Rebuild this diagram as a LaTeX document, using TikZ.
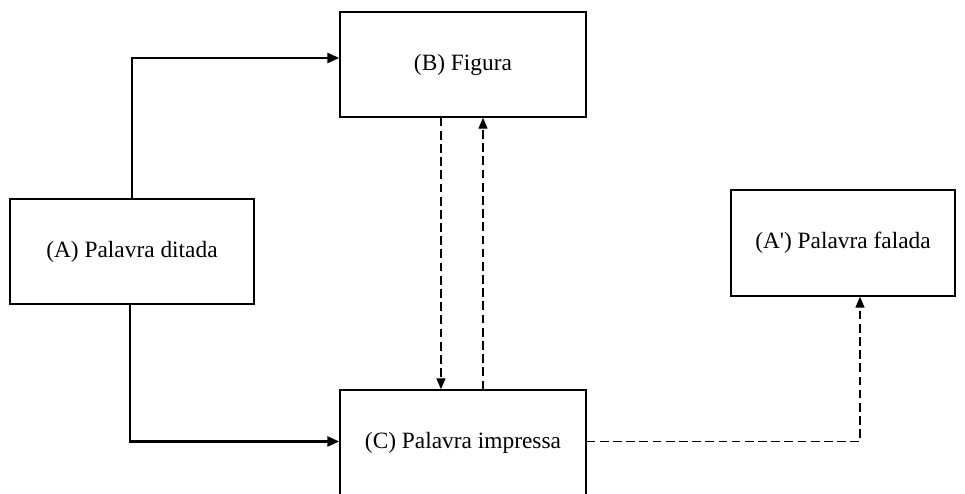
\documentclass[tikz,border=0pt]{standalone}
\usepackage{fontspec}
\setmainfont{Liberation Serif}
\usepackage{tikz}
\usetikzlibrary{arrows.meta,positioning,calc}

\tikzset{
    box/.style={draw, line width=0.8pt, minimum width=4.92cm, minimum height=2.1cm,
        font=\fontsize{13.3}{16}\selectfont},
    solidarrow/.style={line width=1.5pt, -{Triangle[length=2.4mm,width=2mm]}},
    dasharrow/.style={line width=0.7pt, dash pattern=on 5pt off 2.5pt,
        -{Triangle[length=2.2mm,width=1.8mm]}}
}

\begin{document}
\begin{tikzpicture}
    \useasboundingbox (0,0) rectangle (19.3,9.88);

    % Draw boxes
    \node[box, minimum width=4.88cm] (A) at (2.64,4.85) {(A) Palavra ditada};
    \node[box] (B) at (9.26,8.59) {(B) Figura};
    \node[box] (C) at (9.26,1.03) {(C) Palavra impressa};
    \node[box, minimum width=4.48cm, minimum height=2.12cm] (Ap) at (16.86,5.02) {(A\textquotesingle) Palavra falada};

    % Solid connections
    \draw[solidarrow] (A.north) |- ($(B.west)+(0,0.13)$);
    \draw[solidarrow] ([xshift=-0.04cm]A.south) |- ($(C.west)+(0,0.02)$);

    % Dashed connections
    \draw[dasharrow] ([xshift=-0.44cm]B.south) -- ([xshift=-0.44cm]C.north);
    \draw[dasharrow] ([xshift=0.4cm]C.north) -- ([xshift=0.4cm]B.south);
    \coordinate (turn) at ($(Ap.south)+(0.34,0)$);
    \draw[dasharrow] ($(C.east)+(0,0.02)$) -| (turn);
\end{tikzpicture}
\end{document}
